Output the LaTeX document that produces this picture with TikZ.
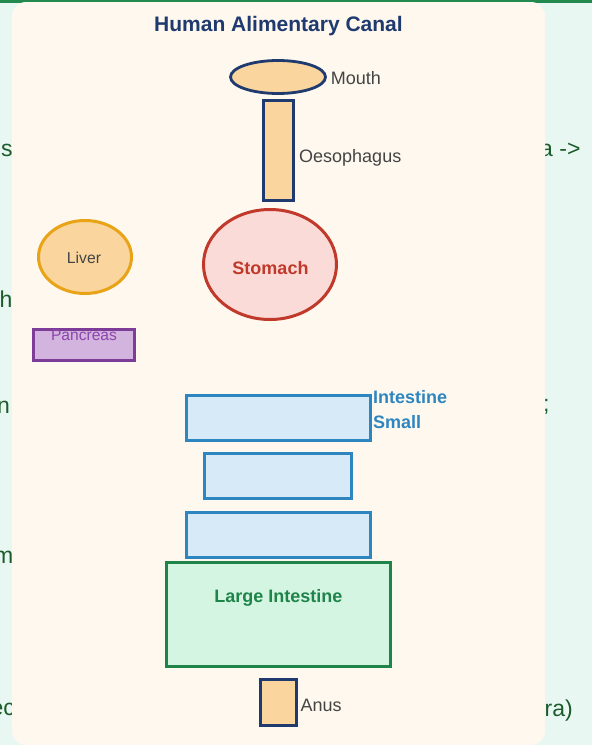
\documentclass[tikz,border=0pt]{standalone}
\usepackage{fontspec}
\setmainfont{Liberation Sans}
\usetikzlibrary{shapes.geometric}
\definecolor{bgmint}{HTML}{E8F7F2}
\definecolor{bargreen}{HTML}{238A4F}
\definecolor{panelcream}{HTML}{FEF8EE}
\definecolor{navy}{HTML}{1F3A6E}
\definecolor{peach}{HTML}{FAD59D}
\definecolor{labelgray}{HTML}{444444}
\definecolor{stomachfill}{HTML}{FADBD8}
\definecolor{stomachred}{HTML}{C0392B}
\definecolor{livergold}{HTML}{E8A317}
\definecolor{pancfill}{HTML}{D2B4DE}
\definecolor{pancpurple}{HTML}{7D3C98}
\definecolor{panctext}{HTML}{8E44AD}
\definecolor{sifill}{HTML}{D6EAF8}
\definecolor{siblue}{HTML}{2E86C1}
\definecolor{lifill}{HTML}{D5F5E3}
\definecolor{ligreen}{HTML}{1E8449}
\definecolor{fraggreen}{HTML}{1D5C2A}
\tikzset{
  organ/.style={inner sep=0pt, outer sep=0pt},
  peachbox/.style={organ, rectangle, draw=navy, fill=peach, line width=2.8pt},
  sibox/.style={organ, rectangle, draw=siblue, fill=sifill, line width=2.8pt, minimum height=45pt},
  lbl/.style={inner sep=0pt, text=labelgray, font=\fontsize{18}{22}\selectfont},
  boldlbl/.style={inner sep=0pt, font=\bfseries\fontsize{18}{22}\selectfont},
  frag/.style={inner sep=0pt, text=fraggreen, font=\fontsize{23}{27}\selectfont}
}
\begin{document}
\begin{tikzpicture}[x=1pt, y=-1pt]
\useasboundingbox (0,0) rectangle (592,745);
\fill[bgmint] (0,0) rectangle (592,745);
% background text fragments (partly hidden by the panel)
\node[frag, anchor=base west] (f1) at (1,156) {s};
\node[frag, anchor=base west] (f2) at (-0.5,307) {h};
\node[frag, anchor=base west] (f3) at (-3,413) {n};
\node[frag, anchor=base east] (f4) at (13.5,563) {m};
\node[frag, anchor=base east] (f5) at (15,715) {ec};
\node[frag, anchor=base west] (f6) at (540,156) {a ->};
\node[frag, anchor=base west] (f7) at (543,411) {;};
\node[frag, anchor=base west] (f8) at (544.5,716) {ra)};
% top bar and panel
\fill[bargreen] (0,0) rectangle (592,3);
\fill[panelcream, rounded corners=14pt] (12,2) rectangle (545,745);
% title
\node[inner sep=0pt, anchor=base, text=navy, font=\bfseries\fontsize{21}{25}\selectfont] (title) at (278.5,31.5) {Human Alimentary Canal};
% mouth
\node[organ, ellipse, draw=navy, fill=peach, line width=2.8pt, minimum width=95pt, minimum height=33pt] (mouth) at (278,77) {};
\node[lbl, anchor=base west] (mouthlbl) at (330.7,84.3) {Mouth};
% oesophagus
\node[peachbox, minimum width=30.5pt, minimum height=100.5pt] (oeso) at (278.5,150.5) {};
\node[lbl, anchor=base west] (oesolbl) at (299,162) {Oesophagus};
% stomach
\node[organ, ellipse, draw=stomachred, fill=stomachfill, line width=3pt, minimum width=133pt, minimum height=110pt] (stomach) at (270,264.5) {};
\node[boldlbl, anchor=base, text=stomachred] (stomachlbl) at (270.5,274) {Stomach};
% liver
\node[organ, ellipse, draw=livergold, fill=peach, line width=3pt, minimum width=93pt, minimum height=73pt] (liver) at (85,257) {};
\node[inner sep=0pt, anchor=base, text=labelgray, font=\fontsize{15.7}{19}\selectfont] (liverlbl) at (84,263.3) {Liver};
% pancreas
\node[organ, rectangle, draw=pancpurple, fill=pancfill, line width=3pt, minimum width=101pt, minimum height=31pt] (pancreas) at (84,345) {};
\node[inner sep=0pt, anchor=base, text=panctext, font=\fontsize{15.6}{19}\selectfont] (panclbl) at (84,340.7) {Pancreas};
% small intestine
\node[sibox, minimum width=184pt] (si1) at (278.5,418) {};
\node[sibox, minimum width=147pt] (si2) at (278,476) {};
\node[sibox, minimum width=184pt] (si3) at (278.5,535) {};
\node[boldlbl, anchor=base west, text=siblue] (silbl1) at (373,403) {Intestine};
\node[boldlbl, anchor=base west, text=siblue] (silbl2) at (373,428) {Small};
% large intestine
\node[organ, rectangle, draw=ligreen, fill=lifill, line width=3.4pt, minimum width=224pt, minimum height=104pt] (li) at (278.5,614.5) {};
\node[boldlbl, anchor=base, text=ligreen] (lilbl) at (278.5,602) {Large Intestine};
% anus
\node[peachbox, minimum width=36pt, minimum height=46pt] (anus) at (278.5,702.5) {};
\node[lbl, anchor=base west] (anuslbl) at (300.5,711) {Anus};
\end{tikzpicture}
\end{document}
